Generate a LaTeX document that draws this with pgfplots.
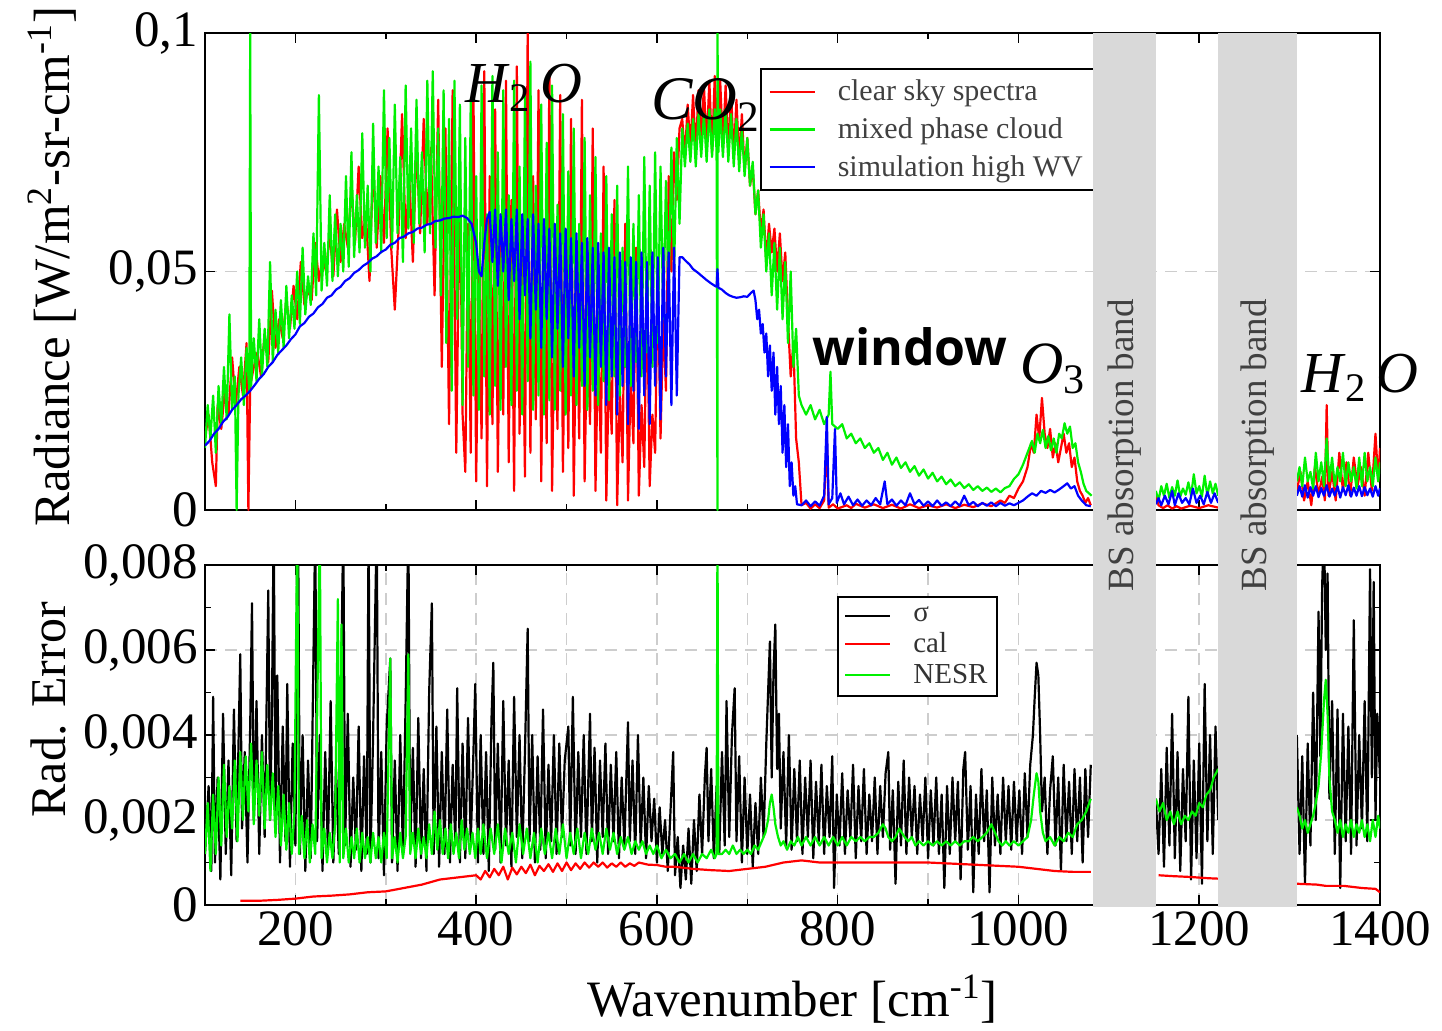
\documentclass[border=0pt]{standalone}
\usepackage{pgfplots}
\pgfplotsset{compat=1.18}
\usepackage{fontspec}
\setmainfont{Liberation Serif}
\newfontfamily\opensans{Open Sans}
\newcommand\fs[1]{\fontsize{#1}{#1}\selectfont}
\definecolor{pr}{RGB}{255,0,0}
\definecolor{pg}{RGB}{0,240,0}
\definecolor{pb}{RGB}{0,0,255}
\definecolor{band}{RGB}{217,217,217}
\definecolor{gridc}{RGB}{205,205,205}
\pgfplotsset{
  common/.style={
    scale only axis, width=587.5pt,
    xmin=100, xmax=1400,
    xtick={200,400,...,1400}, minor xtick={100,300,...,1300},
    scaled y ticks=false,
    tick label style={font=\fs{25.5}},
    /pgf/number format/use comma,
    /pgf/number format/fixed,
    /pgf/number format/precision=3,
    /pgf/number format/1000 sep={},
    /pgf/number format/assume math mode=true,
    axis line style={line width=1.4pt},
    tick style={black, line width=0.8pt},
    major tick length=5pt, minor tick length=3pt,
    grid style={gridc, line width=0.8pt, dash pattern=on 6pt off 4pt},
    minor grid style={gridc, line width=0.8pt, dash pattern=on 6pt off 4pt},
    unbounded coords=jump, clip mode=individual,
    legend cell align=left,
    legend image code/.code={\draw[##1] (0pt,0pt) -- (22.5pt,0pt);},
    every axis plot/.append style={line width=1.1pt, line join=round},
  }
}
\begin{document}
\begin{tikzpicture}
\useasboundingbox (0,0) rectangle (721pt,-515pt);
%================ TOP =================
\begin{axis}[common,
  at={(102.5pt,-16.5pt)}, anchor=north west, height=238.5pt,
  ymin=0, ymax=0.1, ytick={0,0.05,0.1},
  xticklabels={},
  ymajorgrids,
  ylabel={Radiance [W/m\textsuperscript{2}-sr-cm\textsuperscript{-1}]},
  ylabel style={font=\fs{25.5}, at={(axis description cs:-0.13,0.51)}, anchor=center},
  legend style={at={(0.472,0.927)}, anchor=north west, draw=black, line width=1pt,
    font=\fs{15}, text=black!75, inner xsep=4pt, inner ysep=3.5pt, row sep=3pt,
    /tikz/every odd column/.append style={column sep=9pt}},
]
\addplot[pr] table {
x y
100 0.015
104 0.020
108 0.010
112 0.005
114 0.022
118 0.017
122 0.025
126 0.020
130 0.032
134 0.022
138 0.030
142 0.024
146 0.035
148 0.000
150 0.026
154 0.030
158 0.033
162 0.028
166 0.037
170 0.031
174 0.046
178 0.034
182 0.040
186 0.036
190 0.044
194 0.038
198 0.047
202 0.040
206 0.052
210 0.043
214 0.046
218 0.044
222 0.056
226 0.048
230 0.053
234 0.050
238 0.058
242 0.049
246 0.063
250 0.052
254 0.060
258 0.055
262 0.068
266 0.056
270 0.072
274 0.057
278 0.062
282 0.048
286 0.073
290 0.055
294 0.070
298 0.056
302 0.080
306 0.055
310 0.042
314 0.058
318 0.083
322 0.057
326 0.070
330 0.052
334 0.077
338 0.058
342 0.082
346 0.060
350 0.076
354 0.045
358 0.086
362 0.030
366 0.080
370 0.018
374 0.088
378 0.012
382 0.070
385 0.020
388 0.008
391 0.060
394 0.012
397 0.089
400 0.006
403 0.050
406 0.015
409 0.092
412 0.005
415 0.070
418 0.018
421 0.084
424 0.008
427 0.058
430 0.020
433 0.090
436 0.010
439 0.065
442 0.004
445 0.093
448 0.016
451 0.055
454 0.007
457 0.100
460 0.012
463 0.070
466 0.019
469 0.088
472 0.006
475 0.060
478 0.014
481 0.092
484 0.004
487 0.045
490 0.017
493 0.087
496 0.008
499 0.052
502 0.013
505 0.082
508 0.003
511 0.048
514 0.015
517 0.086
520 0.006
523 0.040
526 0.018
529 0.080
532 0.004
535 0.035
538 0.012
541 0.072
544 0.002
547 0.030
550 0.016
553 0.065
556 0.001
559 0.025
562 0.010
565 0.060
568 0.002
571 0.028
574 0.014
577 0.055
580 0.003
583 0.022
586 0.009
589 0.048
592 0.005
595 0.020
598 0.012
601 0.050
604 0.015
607 0.040
610 0.025
613 0.070
616 0.050
619 0.075
622 0.065
625 0.080
628 0.082
631 0.074
634 0.085
637 0.076
640 0.087
643 0.075
646 0.088
649 0.077
652 0.089
655 0.076
658 0.090
661 0.075
664 0.091
667 0.077
670 0.090
673 0.076
676 0.089
679 0.075
682 0.088
685 0.074
688 0.086
691 0.073
694 0.083
697 0.071
700 0.078
703 0.068
706 0.072
709 0.062
712 0.067
715 0.058
718 0.063
721 0.052
724 0.060
727 0.054
730 0.059
733 0.050
736 0.058
739 0.048
742 0.054
745 0.040
748 0.028
751 0.035
754 0.015
757 0.010
760 0.001
765 0.0015
770 0.0003
775 0.0012
780 0.0004
785 0.0020
788 0.0150
790 0.0005
795 0.0012
800 0.0003
810 0.0010
815 0.0004
820 0.0013
830 0.0005
840 0.0012
850 0.0004
860 0.0011
870 0.0003
880 0.0012
890 0.0004
900 0.0010
910 0.0005
920 0.0012
930 0.0004
940 0.0011
950 0.0006
960 0.0014
970 0.0008
980 0.0020
985 0.0015
990 0.0030
995 0.0025
1000 0.0045
1005 0.0060
1010 0.0090
1014 0.0140
1017 0.0120
1020 0.0200
1023 0.0150
1026 0.0235
1029 0.0160
1032 0.0130
1035 0.0170
1038 0.0110
1041 0.0140
1044 0.0100
1047 0.0130
1050 0.0160
1053 0.0120
1056 0.0140
1059 0.0090
1062 0.0110
1065 0.0060
1068 0.0040
1071 0.0030
1074 0.0015
1077 0.0025
1080 0.0010
1100 nan
1152 0.0030
1155 0.0010
1160 0.0004
1165 0.0010
1170 0.0003
1175 0.0008
1180 0.0003
1190 0.0009
1200 0.0004
1210 0.0010
1221 0.0005
1250 nan
1308 0.004
1312 0.008
1316 0.002
1320 0.006
1324 0.001
1328 0.009
1332 0.003
1336 0.007
1339 0.002
1341 0.022
1343 0.003
1347 0.008
1351 0.002
1355 0.012
1359 0.004
1363 0.010
1367 0.003
1371 0.011
1375 0.005
1379 0.009
1383 0.003
1387 0.012
1391 0.004
1395 0.016
1398 0.006
1400 0.013
};
\addlegendentry{clear sky spectra}
\addplot[pg] table {
x y
100 0.013
103 0.022
106 0.015
109 0.024
112 0.012
115 0.026
118 0.018
121 0.030
124 0.019
127 0.041
130 0.021
133 0.028
135 0.000
137 0.024
140 0.032
143 0.022
146 0.034
149 0.025
150 0.100
151 0.026
154 0.036
157 0.027
160 0.040
163 0.028
166 0.038
169 0.030
172 0.052
175 0.031
178 0.042
181 0.033
184 0.044
187 0.034
190 0.047
193 0.036
196 0.045
199 0.038
202 0.050
205 0.039
208 0.055
211 0.041
214 0.049
217 0.043
220 0.058
223 0.045
226 0.087
229 0.046
232 0.056
235 0.047
238 0.066
241 0.048
244 0.062
247 0.049
250 0.060
253 0.050
256 0.070
259 0.051
262 0.075
265 0.053
268 0.066
271 0.054
274 0.079
277 0.055
280 0.068
283 0.050
286 0.081
289 0.056
292 0.072
295 0.054
298 0.088
301 0.057
304 0.078
307 0.055
310 0.085
313 0.058
316 0.074
319 0.052
322 0.089
325 0.059
328 0.080
331 0.056
334 0.086
337 0.060
340 0.075
343 0.054
346 0.090
349 0.058
352 0.092
355 0.055
358 0.080
361 0.045
364 0.088
367 0.035
370 0.082
373 0.025
376 0.090
379 0.040
382 0.085
385 0.022
388 0.078
391 0.030
394 0.086
397 0.024
400 0.070
403 0.021
406 0.089
409 0.028
412 0.062
415 0.020
418 0.091
421 0.026
424 0.075
427 0.021
430 0.088
433 0.030
436 0.066
439 0.022
442 0.090
445 0.025
448 0.072
451 0.020
454 0.087
457 0.027
460 0.094
463 0.021
466 0.068
469 0.024
472 0.085
475 0.020
478 0.077
481 0.023
484 0.089
487 0.021
490 0.064
493 0.025
496 0.083
499 0.020
502 0.071
505 0.024
508 0.080
511 0.022
514 0.060
517 0.026
520 0.078
523 0.021
526 0.066
529 0.025
532 0.074
535 0.022
538 0.058
541 0.027
544 0.070
547 0.023
550 0.062
553 0.028
556 0.068
559 0.024
562 0.055
565 0.030
568 0.072
571 0.026
574 0.060
577 0.031
580 0.066
583 0.028
586 0.074
589 0.033
592 0.068
595 0.030
598 0.075
601 0.035
604 0.072
607 0.040
610 0.069
613 0.045
616 0.076
619 0.050
622 0.078
625 0.060
628 0.080
631 0.072
634 0.081
637 0.073
640 0.082
643 0.072
646 0.083
649 0.074
652 0.083
655 0.073
658 0.084
661 0.074
664 0.084
666 0.075
667 0.000
667 0.100
668 0.075
670 0.084
673 0.074
676 0.084
679 0.073
682 0.083
685 0.072
688 0.082
691 0.071
694 0.080
697 0.070
700 0.078
703 0.068
706 0.073
709 0.062
712 0.067
715 0.055
718 0.062
721 0.050
724 0.058
727 0.045
730 0.056
733 0.042
736 0.055
739 0.040
742 0.052
745 0.035
748 0.050
751 0.030
754 0.038
757 0.024
760 0.022
765 0.020
770 0.022
775 0.019
780 0.021
785 0.018
790 0.020
792 0.029
794 0.018
800 0.017
805 0.018
810 0.015
815 0.016
820 0.014
825 0.015
830 0.013
835 0.014
840 0.012
845 0.013
850 0.0105
855 0.012
860 0.0095
865 0.011
870 0.0088
875 0.010
880 0.0080
885 0.0092
890 0.0072
895 0.0085
900 0.0066
905 0.0078
910 0.0060
915 0.0070
920 0.0054
925 0.0064
930 0.0050
935 0.0058
940 0.0046
945 0.0054
950 0.0042
955 0.0050
960 0.0040
965 0.0047
970 0.0038
975 0.0045
980 0.0037
985 0.0046
990 0.0050
995 0.0065
1000 0.0075
1005 0.0095
1010 0.012
1015 0.0145
1018 0.012
1021 0.0160
1024 0.014
1027 0.0168
1030 0.013
1033 0.0155
1036 0.0125
1039 0.0150
1042 0.012
1045 0.016
1048 0.015
1051 0.0182
1054 0.016
1057 0.0175
1060 0.013
1063 0.014
1066 0.010
1069 0.008
1072 0.0055
1075 0.004
1078 0.0035
1081 0.003
1100 nan
1152 0.004
1155 0.002
1158 0.005
1161 0.003
1164 0.0055
1167 0.0025
1170 0.0048
1173 0.003
1176 0.0062
1179 0.0028
1182 0.0045
1185 0.0032
1188 0.0058
1191 0.003
1194 0.0075
1197 0.0035
1200 0.005
1203 0.0028
1206 0.0072
1209 0.003
1212 0.006
1215 0.0035
1218 0.0055
1221 0.003
1250 nan
1308 0.006
1311 0.009
1314 0.005
1317 0.011
1320 0.006
1323 0.008
1326 0.0045
1329 0.012
1332 0.006
1335 0.010
1338 0.005
1341 0.015
1344 0.006
1347 0.011
1350 0.005
1353 0.009
1356 0.006
1359 0.012
1362 0.005
1365 0.010
1368 0.006
1371 0.009
1374 0.0045
1377 0.011
1380 0.005
1383 0.012
1386 0.006
1389 0.009
1392 0.005
1395 0.011
1398 0.006
1400 0.010
};
\addlegendentry{mixed phase cloud}
\addplot[pb] table {
x y
100 0.0135
105 0.0145
110 0.0160
115 0.0170
120 0.0185
125 0.0195
130 0.0210
135 0.0220
140 0.0232
145 0.0240
150 0.0250
155 0.0262
160 0.0275
165 0.0285
170 0.0300
175 0.0310
180 0.0325
185 0.0335
190 0.0345
195 0.0358
200 0.0368
205 0.0385
210 0.0392
215 0.0405
220 0.0412
225 0.0425
230 0.0432
235 0.0445
240 0.0450
245 0.0462
250 0.0468
255 0.0480
260 0.0486
265 0.0497
270 0.0503
275 0.0512
280 0.0518
285 0.0527
290 0.0532
295 0.0541
300 0.0546
305 0.0556
310 0.0560
315 0.0570
320 0.0573
325 0.0580
330 0.0583
335 0.0590
340 0.0592
345 0.0598
350 0.0600
355 0.0606
360 0.0607
365 0.0611
370 0.0612
375 0.0615
380 0.0614
385 0.0617
390 0.0612
395 0.0600
400 0.0560
403 0.0500
406 0.0490
409 0.0560
412 0.0610
415 0.0625
418 0.052
421 0.063
424 0.047
427 0.062
430 0.050
433 0.063
436 0.044
439 0.061
442 0.048
445 0.063
448 0.040
451 0.062
454 0.045
457 0.061
460 0.036
463 0.062
466 0.042
469 0.060
472 0.034
475 0.061
478 0.040
481 0.059
484 0.032
487 0.060
490 0.038
493 0.058
496 0.030
499 0.059
502 0.036
505 0.057
508 0.028
511 0.058
514 0.034
517 0.056
520 0.026
523 0.057
526 0.032
529 0.055
532 0.024
535 0.056
538 0.030
541 0.054
544 0.022
547 0.055
550 0.028
553 0.053
556 0.020
559 0.054
562 0.026
565 0.052
568 0.018
571 0.053
574 0.025
577 0.052
580 0.017
583 0.054
586 0.024
589 0.052
592 0.018
595 0.054
598 0.026
601 0.053
604 0.019
607 0.055
610 0.028
613 0.054
616 0.022
619 0.055
622 0.024
625 0.053
628 0.0530
632 0.0522
636 0.0515
640 0.0505
645 0.0498
650 0.0490
655 0.0482
660 0.0475
664 0.0470
666 0.0468
667 0.0505
668 0.0466
672 0.0462
676 0.0455
680 0.0450
684 0.0447
688 0.0445
692 0.0446
696 0.0448
700 0.0447
704 0.0455
707 0.0460
709 0.0440
711 0.0400
713 0.0420
715 0.0370
717 0.0390
719 0.0330
721 0.0370
723 0.0280
725 0.0345
727 0.0250
729 0.0330
731 0.0200
733 0.0300
735 0.0180
737 0.0260
739 0.0120
741 0.0220
743 0.0090
745 0.0180
747 0.0050
749 0.0100
751 0.0030
753 0.0050
755 0.0012
760 0.0010
765 0.0020
770 0.0008
775 0.0018
780 0.0009
785 0.0030
788 0.0195
790 0.0012
794 0.0025
797 0.0170
799 0.0015
803 0.0035
807 0.0012
812 0.0028
817 0.0010
822 0.0022
827 0.0009
832 0.0020
837 0.0010
842 0.0025
847 0.0012
852 0.0060
855 0.0012
860 0.0022
865 0.0009
870 0.0020
875 0.0010
880 0.0035
885 0.0012
890 0.0021
895 0.0009
900 0.0018
905 0.0008
910 0.0020
915 0.0009
920 0.0016
925 0.0008
930 0.0018
935 0.0009
940 0.0030
945 0.0010
950 0.0017
955 0.0008
960 0.0015
965 0.0009
970 0.0016
975 0.0008
980 0.0015
985 0.0009
990 0.0014
995 0.0010
1000 0.0015
1005 0.0020
1010 0.0028
1015 0.0035
1020 0.0030
1025 0.0040
1030 0.0036
1035 0.0042
1040 0.0037
1045 0.0043
1050 0.0050
1054 0.0056
1058 0.0045
1062 0.0050
1066 0.0030
1070 0.0020
1075 0.0010
1080 0.0008
1100 nan
1152 0.0012
1155 0.0025
1158 0.0010
1162 0.0030
1166 0.0012
1170 0.0040
1173 0.0010
1177 0.0035
1181 0.0015
1185 0.0025
1189 0.0012
1193 0.0045
1197 0.0015
1201 0.0030
1205 0.0012
1209 0.0038
1213 0.0015
1217 0.0035
1221 0.0015
1250 nan
1308 0.0030
1311 0.0050
1314 0.0028
1317 0.0052
1320 0.0026
1323 0.0048
1326 0.0030
1329 0.0050
1332 0.0027
1335 0.0046
1338 0.0030
1341 0.0052
1344 0.0028
1347 0.0045
1350 0.0030
1353 0.0050
1356 0.0026
1359 0.0048
1362 0.0031
1365 0.0052
1368 0.0028
1371 0.0047
1374 0.0030
1377 0.0050
1380 0.0029
1383 0.0048
1386 0.0031
1389 0.0045
1392 0.0028
1395 0.0050
1398 0.0030
1400 0.0046
};
\addlegendentry{simulation high WV}
\node[anchor=base, font=\fs{29}] at (axis cs:453,0.0855) {\textit{H}\textsubscript{2}\,\textit{O}};
\node[anchor=base, font=\fs{31}] at (axis cs:654,0.0818) {\textit{CO}\textsubscript{2}};
\node[anchor=base, font={\opensans\bfseries\fs{25}}] at (axis cs:880,0.0302) {window};
\node[anchor=base, font=\fs{30}] at (axis cs:1038,0.0266) {\textit{O}\textsubscript{3}};
\node[anchor=base, font=\fs{29}] at (axis cs:1378,0.0247) {\textit{H}\textsubscript{2}\,\textit{O}};
\coordinate (b1t) at (axis cs:1082,0.1);
\coordinate (b2t) at (axis cs:1221,0.1);
\coordinate (t1) at (axis cs:1117.3,0.0136);
\coordinate (t2) at (axis cs:1264.5,0.0136);
\end{axis}
%================ BOTTOM =================
\begin{axis}[common,
  at={(102.5pt,-282.5pt)}, anchor=north west, height=170pt,
  ymin=0, ymax=0.008, ytick={0,0.002,0.004,0.006,0.008},
  minor ytick={0.001,0.003,0.005,0.007},
  xmajorgrids, xminorgrids, ymajorgrids,
  xlabel={Wavenumber [cm\textsuperscript{-1}]},
  xlabel style={font=\fs{25.5}, at={(axis description cs:0.5,-0.327)}, anchor=base},
  ylabel={Rad. Error},
  ylabel style={font=\fs{25}, at={(axis description cs:-0.1336,0.574)}, anchor=center},
  legend style={at={(0.538,0.909)}, anchor=north west, draw=black, line width=1pt,
    font=\fs{14.5}, text=black!80, inner xsep=3pt, inner ysep=3pt, row sep=0pt,
    /tikz/every odd column/.append style={column sep=9pt}},
]
\addplot[black] table {
x y
100 0.0012
104 0.0028
107 0.0008
109 0.0049
111 0.0010
114 0.0030
117 0.0006
120 0.0045
123 0.0012
126 0.0034
129 0.0007
132 0.0046
135 0.0015
139 0.0059
141 0.0018
144 0.0036
147 0.0010
150 0.0042
152 0.0071
154 0.0020
157 0.0048
160 0.0012
163 0.0040
166 0.0016
170 0.0074
172 0.0020
174 0.0044
176 0.0090
178 0.0022
180 0.0054
183 0.0010
186 0.0042
189 0.0015
191 0.0052
194 0.0009
197 0.0038
200 0.0014
203 0.0090
205 0.0012
208 0.0040
211 0.0008
214 0.0034
217 0.0011
222 0.0090
224 0.0015
227 0.0040
230 0.0008
233 0.0036
236 0.0013
239 0.0048
242 0.0010
245 0.0032
248 0.0012
253 0.0090
255 0.0014
258 0.0045
261 0.0009
264 0.0030
267 0.0013
270 0.0042
273 0.0008
276 0.0035
279 0.0012
281 0.0090
283 0.0010
286 0.0040
290 0.0090
292 0.0011
295 0.0036
298 0.0007
301 0.0042
305 0.0058
307 0.0010
310 0.0034
313 0.0008
316 0.0040
319 0.0012
322 0.0048
325 0.0090
327 0.0013
330 0.0037
333 0.0009
336 0.0044
339 0.0011
342 0.0032
345 0.0008
348 0.0050
351 0.0071
353 0.0012
356 0.0042
359 0.0009
362 0.0036
365 0.0012
368 0.0046
371 0.0010
374 0.0033
377 0.0014
379 0.0051
382 0.0010
385 0.0038
388 0.0011
391 0.0044
394 0.0015
397 0.0036
399 0.0052
402 0.0010
405 0.0040
408 0.0012
411 0.0036
414 0.0008
417 0.0044
419 0.0057
421 0.0013
424 0.0038
427 0.0010
430 0.0048
433 0.0014
436 0.0034
439 0.0009
442 0.0049
445 0.0016
448 0.0040
451 0.0011
454 0.0036
457 0.0065
459 0.0015
462 0.0040
465 0.0010
468 0.0035
471 0.0013
474 0.0046
477 0.0011
480 0.0033
483 0.0015
486 0.0040
489 0.0012
492 0.0038
495 0.0016
498 0.0034
502 0.0042
504 0.0014
507 0.0049
510 0.0012
513 0.0036
516 0.0016
519 0.0040
522 0.0012
526 0.0045
528 0.0015
531 0.0037
534 0.0010
537 0.0034
540 0.0016
543 0.0038
546 0.0012
549 0.0033
552 0.0015
555 0.0036
558 0.0011
561 0.0030
564 0.0014
568 0.0043
570 0.0015
573 0.0034
576 0.0012
579 0.0040
582 0.0014
585 0.0030
588 0.0011
591 0.0028
594 0.0015
597 0.0025
600 0.0010
603 0.0023
606 0.0012
609 0.0020
612 0.0008
615 0.0022
618 0.0036
620 0.0007
623 0.0016
626 0.0004
629 0.0014
632 0.0006
635 0.0018
638 0.0005
641 0.0020
644 0.0008
647 0.0026
650 0.0012
653 0.0030
655 0.0037
657 0.0015
660 0.0032
663 0.0011
666 0.0028
669 0.0012
672 0.0036
675 0.0014
677 0.0048
680 0.0016
683 0.0040
686 0.0051
688 0.0015
691 0.0035
694 0.0010
697 0.0030
700 0.0012
703 0.0026
706 0.0009
709 0.0024
712 0.0012
715 0.0030
718 0.0016
721 0.0038
723 0.0050
725 0.0062
727 0.0030
729 0.0055
731 0.0066
733 0.0032
735 0.0045
737 0.0018
740 0.0036
743 0.0014
746 0.0040
749 0.0013
752 0.0032
755 0.0015
758 0.0034
761 0.0012
764 0.0030
767 0.0016
770 0.0034
773 0.0011
776 0.0029
779 0.0015
782 0.0033
785 0.0012
788 0.0028
791 0.0016
794 0.0035
796 0.0004
799 0.0026
802 0.0014
805 0.0031
808 0.0012
811 0.0027
814 0.0016
817 0.0033
820 0.0011
823 0.0028
826 0.0015
829 0.0032
832 0.0012
835 0.0026
838 0.0015
841 0.0030
844 0.0012
847 0.0028
850 0.0016
853 0.0031
856 0.0036
858 0.0013
861 0.0027
864 0.0005
867 0.0029
870 0.0014
873 0.0034
876 0.0012
879 0.0030
882 0.0016
885 0.0028
888 0.0012
891 0.0026
894 0.0015
897 0.0030
900 0.0011
903 0.0027
906 0.0014
909 0.0030
912 0.0012
915 0.0026
918 0.0004
921 0.0028
924 0.0012
927 0.0030
930 0.0015
933 0.0029
936 0.0006
939 0.0032
941 0.0036
944 0.0013
947 0.0028
950 0.0003
953 0.0026
956 0.0012
959 0.0032
962 0.0015
965 0.0027
968 0.0003
971 0.0030
974 0.0014
977 0.0026
980 0.0012
983 0.0030
986 0.0015
989 0.0028
992 0.0013
995 0.0029
998 0.0015
1001 0.0027
1004 0.0012
1007 0.0031
1010 0.0016
1013 0.0033
1016 0.0040
1018 0.0049
1020 0.0057
1022 0.0054
1024 0.0040
1026 0.0022
1029 0.0030
1032 0.0012
1035 0.0027
1038 0.0035
1041 0.0014
1044 0.0030
1047 0.0008
1050 0.0033
1053 0.0015
1056 0.0029
1059 0.0012
1062 0.0032
1065 0.0015
1068 0.0030
1071 0.0010
1074 0.0032
1077 0.0016
1080 0.0033
1100 nan
1152 0.0025
1155 0.0012
1158 0.0032
1161 0.0009
1164 0.0037
1167 0.0014
1170 0.0045
1173 0.0011
1176 0.0036
1179 0.0008
1182 0.0032
1185 0.0015
1188 0.0049
1191 0.0006
1194 0.0034
1197 0.0011
1200 0.0038
1203 0.0005
1206 0.0052
1209 0.0015
1212 0.0040
1215 0.0012
1218 0.0042
1221 0.0020
1250 nan
1308 0.0040
1311 0.0012
1314 0.0035
1317 0.0005
1320 0.0038
1323 0.0014
1326 0.0050
1329 0.0020
1332 0.0069
1334 0.0035
1336 0.0075
1338 0.0090
1340 0.0060
1342 0.0078
1344 0.0025
1347 0.0048
1350 0.0012
1353 0.0046
1356 0.0004
1359 0.0045
1362 0.0015
1365 0.0042
1368 0.0012
1371 0.0067
1374 0.0014
1377 0.0040
1380 0.0018
1383 0.0048
1386 0.0015
1389 0.0079
1391 0.0030
1393 0.0076
1395 0.0020
1397 0.0045
1400 0.0030
};
\addlegendentry{σ}
\addplot[pr] table {
x y
139 0.0001
160 0.0001
180 0.00012
200 0.00015
220 0.0002
240 0.00022
260 0.00025
280 0.0003
300 0.00032
320 0.0004
340 0.00048
360 0.0006
380 0.00065
400 0.0007
405 0.0006
410 0.0008
415 0.00065
420 0.00085
425 0.0007
430 0.0009
435 0.0006
440 0.00088
445 0.00072
450 0.0009
455 0.00075
460 0.00095
465 0.0007
470 0.00092
475 0.0008
480 0.00096
485 0.00078
490 0.00098
495 0.0008
500 0.001
505 0.00082
510 0.00098
515 0.00085
520 0.001
525 0.00088
530 0.001
535 0.0009
540 0.001
545 0.00088
550 0.00098
555 0.0009
560 0.001
565 0.0009
570 0.00098
575 0.00092
580 0.001
590 0.00095
600 0.00094
610 0.0009
620 0.0009
640 0.00085
660 0.00082
680 0.0008
700 0.00085
720 0.0009
740 0.001
760 0.00105
780 0.001
800 0.001
850 0.001
900 0.001
950 0.00095
1000 0.0009
1020 0.00085
1040 0.0008
1060 0.00078
1080 0.00078
1100 nan
1155 0.0007
1170 0.00068
1190 0.00066
1210 0.00063
1221 0.00062
1250 nan
1308 0.0005
1330 0.00048
1340 0.00045
1360 0.00045
1380 0.0004
1395 0.00038
1400 0.0003
};
\addlegendentry{cal}
\addplot[pg] table {
x y
100 0.0012
103 0.0024
106 0.0008
109 0.0026
112 0.0012
115 0.0030
118 0.0014
121 0.0033
124 0.0016
127 0.0028
130 0.0018
133 0.0034
136 0.0015
139 0.0036
142 0.0020
145 0.0035
148 0.0022
151 0.0038
154 0.0019
157 0.0034
160 0.0021
163 0.0036
166 0.0018
169 0.0033
172 0.0020
175 0.0031
178 0.0016
181 0.0028
184 0.0014
187 0.0026
190 0.0013
193 0.0024
196 0.0012
199 0.0022
202 0.0090
204 0.0012
207 0.0021
210 0.0011
213 0.0020
216 0.0010
219 0.0019
222 0.0012
227 0.0090
229 0.0011
232 0.0018
235 0.0010
238 0.0017
241 0.0011
244 0.0019
247 0.0072
249 0.0010
251 0.0066
253 0.0011
256 0.0018
259 0.0010
262 0.0016
265 0.0011
268 0.0018
271 0.0010
274 0.0017
277 0.0011
280 0.0016
283 0.0010
286 0.0017
289 0.0011
292 0.0016
295 0.0010
298 0.0017
301 0.0011
305 0.0058
307 0.0011
310 0.0016
313 0.0010
316 0.0017
319 0.0011
322 0.0016
325 0.0059
327 0.0012
330 0.0017
333 0.0011
336 0.0018
339 0.0012
342 0.0016
345 0.0011
348 0.0019
351 0.0012
354 0.0022
357 0.0013
360 0.0020
363 0.0012
366 0.0018
369 0.0011
372 0.0019
375 0.0012
378 0.0017
381 0.0011
384 0.0020
387 0.0013
390 0.0018
393 0.0012
396 0.0017
399 0.0011
402 0.0018
405 0.0012
408 0.0019
412 0.0011
416 0.0018
420 0.0012
424 0.0019
428 0.0010
432 0.0018
436 0.0012
440 0.0017
444 0.0010
448 0.0019
452 0.0012
456 0.0018
460 0.0011
464 0.0017
468 0.0010
472 0.0018
476 0.0012
480 0.0017
484 0.0011
488 0.0018
492 0.0012
496 0.0019
500 0.0011
504 0.0017
508 0.0012
512 0.0018
516 0.0011
520 0.0017
524 0.0012
528 0.0018
532 0.0013
536 0.0017
540 0.0012
544 0.0018
548 0.0013
552 0.0017
556 0.0012
560 0.0016
564 0.0013
568 0.0016
572 0.0012
576 0.0015
580 0.0013
584 0.0015
588 0.0012
592 0.0014
596 0.0012
600 0.0014
605 0.0011
610 0.0013
615 0.0011
620 0.0012
625 0.0010
630 0.0012
635 0.0010
640 0.0012
645 0.0010
650 0.0012
655 0.0011
660 0.0013
664 0.0011
666 0.0012
667 0.0090
668 0.0012
672 0.0012
676 0.0013
680 0.0012
684 0.0014
688 0.0012
692 0.0013
696 0.0012
700 0.0013
704 0.0012
708 0.0014
712 0.0013
716 0.0015
720 0.0017
723 0.0020
725 0.0024
727 0.0026
729 0.0023
731 0.0019
734 0.0016
737 0.0014
740 0.0015
744 0.0013
748 0.0015
752 0.0014
756 0.0016
760 0.0014
765 0.0016
770 0.0014
775 0.0016
780 0.0014
785 0.0016
790 0.0014
795 0.0016
800 0.0014
805 0.0016
810 0.0014
815 0.0016
820 0.0015
825 0.0016
830 0.0015
835 0.0016
840 0.0016
845 0.0017
850 0.0019
853 0.0018
856 0.0016
860 0.0015
864 0.0016
868 0.0018
871 0.0017
874 0.0016
878 0.0015
882 0.0016
886 0.0014
890 0.0015
895 0.0014
900 0.0015
905 0.0014
910 0.0015
915 0.0014
920 0.0015
925 0.0014
930 0.0015
935 0.0014
940 0.0015
945 0.0015
950 0.0016
955 0.0015
960 0.0016
965 0.0017
970 0.0019
974 0.0017
978 0.0015
982 0.0014
986 0.0015
990 0.0014
995 0.0015
1000 0.0014
1005 0.0015
1010 0.0016
1014 0.0020
1017 0.0026
1020 0.0031
1022 0.0029
1024 0.0022
1027 0.0017
1030 0.0015
1035 0.0016
1040 0.0014
1045 0.0016
1050 0.0015
1055 0.0017
1060 0.0016
1065 0.0019
1070 0.0020
1075 0.0022
1080 0.0025
1100 nan
1152 0.0025
1156 0.0022
1160 0.0024
1164 0.0020
1168 0.0022
1172 0.0019
1176 0.0022
1180 0.0019
1184 0.0021
1188 0.0020
1192 0.0022
1196 0.0021
1200 0.0024
1204 0.0023
1208 0.0026
1212 0.0027
1216 0.0030
1221 0.0032
1250 nan
1308 0.0023
1311 0.0021
1314 0.0018
1317 0.0020
1320 0.0017
1323 0.0019
1326 0.0021
1329 0.0024
1332 0.0028
1335 0.0036
1338 0.0048
1340 0.0053
1342 0.0045
1344 0.0030
1347 0.0022
1350 0.0020
1353 0.0017
1356 0.0020
1359 0.0016
1362 0.0019
1365 0.0017
1368 0.0020
1371 0.0016
1374 0.0019
1377 0.0017
1380 0.0020
1383 0.0016
1386 0.0019
1389 0.0015
1392 0.0020
1395 0.0016
1398 0.0021
1400 0.0018
};
\addlegendentry{NESR}
\coordinate (b1b) at (axis cs:1152,0);
\coordinate (b2b) at (axis cs:1308,0);
\end{axis}
%================ BANDS =================
\fill[band] (b1t) rectangle ([yshift=-0.8pt]b1b);
\fill[band] (b2t) rectangle ([yshift=-0.8pt]b2b);
\node[rotate=90, font=\fs{18.5}, text=black!75] at (t1) {BS absorption band};
\node[rotate=90, font=\fs{18.5}, text=black!75] at (t2) {BS absorption band};
\end{tikzpicture}
\end{document}
